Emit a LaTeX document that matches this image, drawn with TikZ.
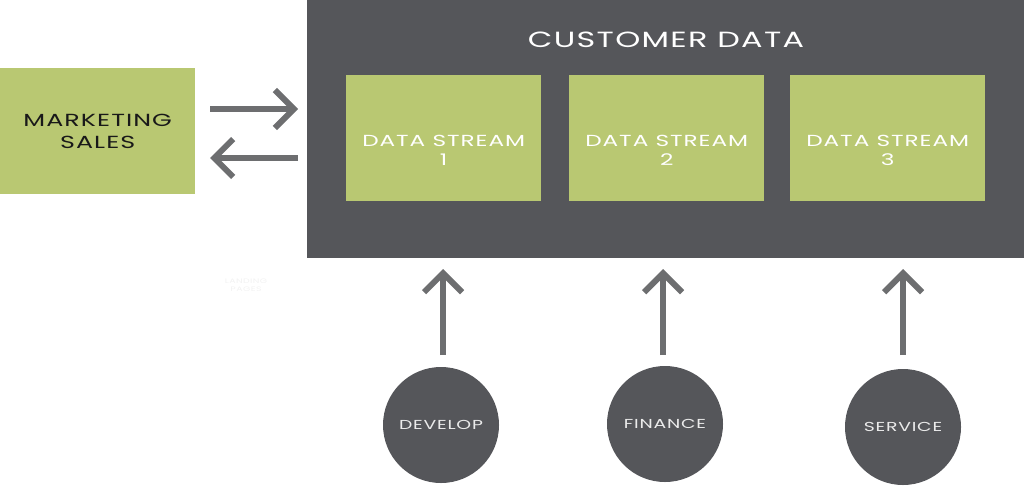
\documentclass[tikz,border=0pt]{standalone}
\usepackage{fontspec}
\usetikzlibrary{arrows.meta,calc}
\newfontfamily\tech[LetterSpace=6,FakeStretch=1.45]{Poppins}
\definecolor{darkbox}{HTML}{55565A}
\definecolor{greenbox}{HTML}{B9C872}
\definecolor{arrowgray}{HTML}{6D6E70}
\tikzset{
  panel/.style={fill=darkbox, draw=none, anchor=north west, inner sep=0pt},
  streambox/.style={fill=greenbox, draw=none, anchor=north west, minimum width=195pt, minimum height=126pt, inner sep=0pt},
  streamtext/.style={text=white, font=\tech\fontsize{16}{19}\selectfont, align=center},
  dept/.style={circle, fill=darkbox, draw=none, minimum size=116pt, inner sep=0pt, text=white!92!black, font=\tech\fontsize{13}{14}\selectfont},
  flow/.style={draw=arrowgray, line width=6pt, -{Straight Barb[length=19pt,width=38pt]}, line join=miter}
}
\begin{document}
\begin{tikzpicture}[x=1pt,y=-1pt]
\useasboundingbox (0,0) rectangle (1024,487);
% main panel
\node[panel, minimum width=717pt, minimum height=258pt] (panel) at (307,0) {};
\node[text=white, font=\tech\fontsize{22}{24}\selectfont] (title) at (666,40) {CUSTOMER DATA};
% streams
\node[streambox] (s1) at (346,75) {};
\node[streambox] (s2) at (569,75) {};
\node[streambox] (s3) at (790,75) {};
\node[streamtext] (t1) at ($(s1.center)+(0,12)$) {DATA STREAM\\1};
\node[streamtext] (t2) at ($(s2.center)+(0,12)$) {DATA STREAM\\2};
\node[streamtext] (t3) at ($(s3.center)+(0,12)$) {DATA STREAM\\3};
% marketing
\node[fill=greenbox, anchor=north west, minimum width=195pt, minimum height=126pt, inner sep=0pt] (mk) at (0,68) {};
\node[text=black!90, font=\tech\fontsize{17.5}{22}\selectfont, align=center] (mkt) at (mk.center) {MARKETING\\SALES};
% horizontal arrows
\coordinate (r1) at (210,109);
\coordinate (r2) at (298,109);
\coordinate (l1) at (298,158);
\coordinate (l2) at (210,158);
\draw[flow] (r1) -- (r2);
\draw[flow] (l1) -- (l2);
% departments
\node[dept] (dev) at (441,425) {DEVELOP};
\node[dept] (fin) at (665,424) {FINANCE};
\node[dept] (ser) at (903,427) {SERVICE};
\coordinate (a1) at (443,269);
\coordinate (a2) at (663,269);
\coordinate (a3) at (903,269);
\draw[flow] (443,355) -- (a1);
\draw[flow] (663,355) -- (a2);
\draw[flow] (903,355) -- (a3);
% watermark
\node[text=black!5, font=\tech\fontsize{6.5}{7.5}\selectfont, align=center] (wm) at (246,285) {LANDING\\PAGES};
\end{tikzpicture}
\end{document}
